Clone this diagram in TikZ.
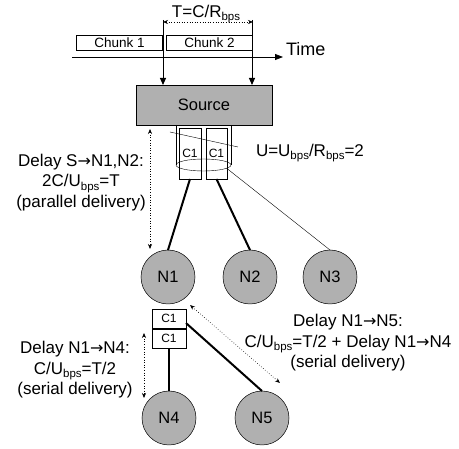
\documentclass[tikz,border=0pt]{standalone}
\usepackage{fontspec}
\setmainfont{Liberation Sans}
\newfontfamily\arrowfont{DejaVu Sans}
\usetikzlibrary{arrows.meta,shapes.geometric}
\newcommand\sbps{\raisebox{-0.35ex}{\fontsize{11.5}{12}\selectfont bps}}
\newcommand\rarr{{\arrowfont\fontsize{16}{16}\selectfont →}}
\definecolor{nodegray}{RGB}{176,176,176}
\begin{document}
\begin{tikzpicture}[x=1pt,y=-1pt,
  every node/.style={inner sep=0pt,outer sep=0pt},
  chunkbox/.style={draw,line width=0.5pt,minimum width=86pt,minimum height=15pt,font=\fontsize{13.5}{15}\selectfont},
  srcbox/.style={draw,line width=0.8pt,fill=nodegray,minimum width=136pt,minimum height=40pt,font=\fontsize{16.5}{18}\selectfont},
  cbox/.style={draw,line width=0.5pt,minimum height=51pt,font=\fontsize{12}{14}\selectfont},
  sbox/.style={draw,line width=0.5pt,minimum width=34pt,minimum height=19pt,font=\fontsize{12}{14}\selectfont},
  netnode/.style={circle,draw,line width=0.5pt,fill=nodegray,minimum size=54pt,font=\fontsize{16.5}{18}\selectfont},
  lbl/.style={align=center,font=\fontsize{17}{20.5}\selectfont},
  thickline/.style={line width=2pt},
  thinline/.style={line width=0.4pt},
  dotarr/.style={dotted,line width=0.6pt,{Stealth[length=5pt,width=4pt]}-{Stealth[length=5pt,width=4pt]}},
  solidarr/.style={line width=1pt,-{Triangle[length=7pt,width=6pt]}}
]
\useasboundingbox[fill=white] (0,0) rectangle (459,449);

% time line and chunks
\node[chunkbox] (ch1) at (119.5,42.5) {Chunk 1};
\node[chunkbox] (ch2) at (209.5,42.5) {Chunk 2};
\coordinate (tl0) at (72,57);
\coordinate (tl1) at (283,57);
\draw[line width=0.8pt,-{Triangle[length=8pt,width=6pt]}] (tl0) -- (tl1);
\node[anchor=west,font=\fontsize{18}{20}\selectfont] (time) at (286,49) {Time};
\node[font=\fontsize{17}{18}\selectfont] (tlabel) at (206,14) {T=C/R\sbps};
\coordinate (ta) at (163,22);
\coordinate (tb) at (253,22);
\draw[dotarr] (ta) -- (tb);

% source
\node[srcbox] (src) at (204,105) {Source};
\coordinate (va) at (163,20);
\coordinate (vb) at (252,20);
\draw[solidarr] (va) -- (va |- src.north);
\draw[solidarr] (vb) -- (vb |- src.north);

% C1 boxes in pipe
\node[cbox,minimum width=22pt] (c1a) at (190,153.5) {C1};
\node[cbox,minimum width=21pt] (c1b) at (216.5,153.5) {C1};
\node[ellipse,draw,thinline,minimum width=55pt,minimum height=12pt] (ring) at (203.5,165) {};
\draw[thinline] (ring.west |- src.south) -- (ring.west);
\draw[thinline] (ring.east |- src.south) -- (ring.east);
\coordinate (ua) at (170,132);
\coordinate (ub) at (238,147);
\draw[thinline] (ua) -- (ub);
\node[anchor=west,font=\fontsize{17}{18}\selectfont] (ulabel) at (256,153) {U=U\sbps/R\sbps=2};

% first-level nodes
\node[netnode] (n1) at (168,277) {N1};
\node[netnode] (n2) at (250,277) {N2};
\node[netnode] (n3) at (330,277) {N3};
\draw[thickline] (c1a.south) -- (n1.north);
\draw[thickline] (c1b.south) -- (n2.north);
\draw[thinline] (ring.-8) -- (n3.north);

\coordinate (da) at (150,129);
\coordinate (db) at (150,249);
\draw[dotarr] (da) -- (db);
\node[lbl] (txt1) at (81,182.5) {Delay S\rarr N1,N2:\\2C/U\sbps=T\\(parallel delivery)};

% second level
\node[sbox] (s1) at (169,318.5) {C1};
\node[sbox] (s2) at (169,338.5) {C1};
\node[netnode] (n4) at (169,418) {N4};
\node[netnode] (n5) at (262,418) {N5};
\draw[thickline] (s2.south) -- (n4.north);
\draw[thickline] (s1.-15) -- (n5.north);

\coordinate (ea) at (190,305);
\coordinate (eb) at (280,383);
\draw[dotarr] (ea) -- (eb);
\coordinate (fa) at (144,333);
\coordinate (fb) at (144,398);
\draw[dotarr] (fa) -- (fb);

\node[lbl] (txt2) at (75,370) {Delay N1\rarr N4:\\C/U\sbps=T/2\\(serial delivery)};
\node[lbl] (txt3) at (348,343) {Delay N1\rarr N5:\\C/U\sbps=T/2 + Delay N1\rarr N4\\(serial delivery)};
\end{tikzpicture}
\end{document}
